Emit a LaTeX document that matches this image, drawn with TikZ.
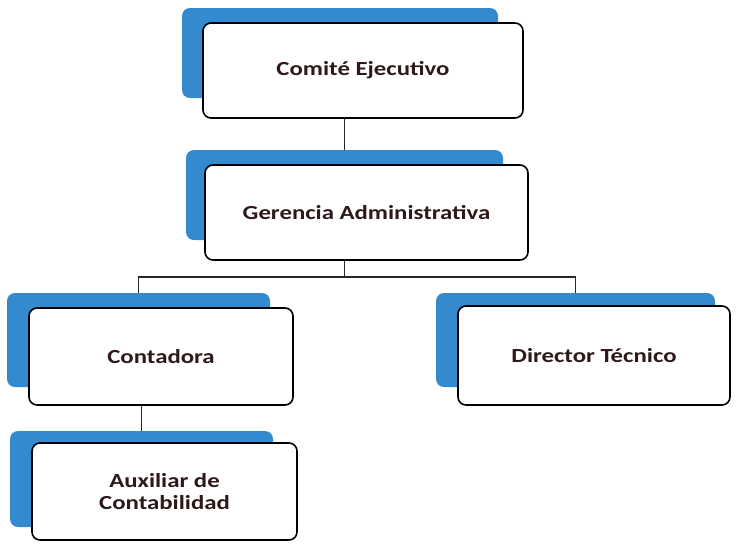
\documentclass[tikz,border=0pt]{standalone}
\usepackage{fontspec}
\setmainfont{Carlito}[FakeStretch=1.24]
\definecolor{shadowblue}{RGB}{52,138,206}
\definecolor{txt}{RGB}{45,25,25}
\begin{document}
\begin{tikzpicture}[x=1pt,y=-1pt,
  backbox/.style={draw=none,fill=shadowblue,rounded corners=8pt,inner sep=0pt},
  frontbox/.style={draw=black,line width=1.6pt,fill=white,rounded corners=8pt,inner sep=0pt,
     font=\fontsize{20}{22}\selectfont\bfseries,text=txt,align=center},
  link/.style={draw=black!85,line width=1.2pt}]
\useasboundingbox (0,0) rectangle (743,544);
% shadows
\node[backbox,minimum width=316pt,minimum height=90pt] (b1) at (340,53) {};
\node[backbox,minimum width=317pt,minimum height=90pt] (b2) at (344.5,195) {};
\node[backbox,minimum width=263pt,minimum height=94pt] (b3) at (138.5,340) {};
\node[backbox,minimum width=279pt,minimum height=94pt] (b4) at (575.5,340) {};
\node[backbox,minimum width=263pt,minimum height=96pt] (b5) at (141.5,479) {};
% fronts
\node[frontbox,minimum width=320pt,minimum height=95pt] (w1) at (363,70.5) {Comité Ejecutivo};
\node[frontbox,minimum width=323pt,minimum height=95pt] (w2) at (366.5,212.5) {Gerencia Administrativa};
\node[frontbox,minimum width=264pt,minimum height=97pt] (w3) at (161,356.5) {Contadora};
\node[frontbox,minimum width=272pt,minimum height=99pt] (w4) at (594,355.5) {Director Técnico};
\node[frontbox,minimum width=265pt,minimum height=97pt] (w5) at (164.5,491.5) {Auxiliar de\\Contabilidad};
% connectors
\coordinate (bus) at (344.5,277);
\draw[link] (w1.south -| b2.north) -- (b2.north);
\draw[link] (w2.south -| bus) -- (bus);
\draw[link] (b3.north) |- (bus) -| (b4.north);
\draw[link] (w3.south -| b5.north) -- (b5.north);
\end{tikzpicture}
\end{document}
